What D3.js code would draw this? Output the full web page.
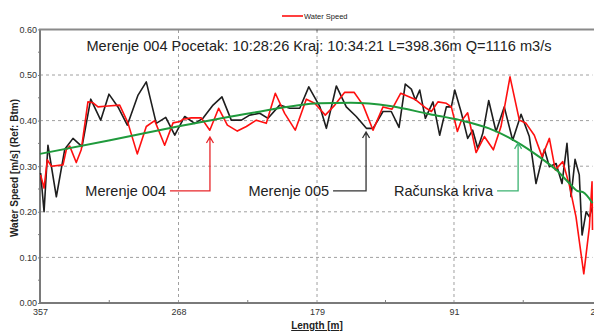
<!DOCTYPE html>
<html>
<head>
<meta charset="utf-8">
<script src="https://cdn.jsdelivr.net/npm/d3@7"></script>
<style>
  body { margin: 0; background: #fff; }
  svg { display: block; font-family: Arial, "Liberation Sans", sans-serif; }
</style>
</head>
<body>
<svg id="chart" width="594" height="333"></svg>
<script>
// --- data ---
const lengthTicks = [357, 268, 179, 91, 2];
const lengthMinorTicks = [312.5, 223.5, 135, 46.5];
const speedTicks = [0, 0.1, 0.2, 0.3, 0.4, 0.5, 0.6];

const m004Length = [356.6, 354.4, 352.3, 349.7, 342.2, 340.1, 337.9, 333.7, 330.5, 326.2, 322.9, 319.7, 313.3, 305.8, 300.5, 294.5, 288.7, 283.3, 276.9, 271.5, 267.0, 265.1, 259.8, 253.4, 247.9, 242.2, 236.6, 230.2, 224.4, 218.0, 211.6, 205.8, 199.8, 193.0, 185.9, 180.5, 173.7, 167.6, 161.2, 155.2, 149.4, 143.0, 136.6, 130.8, 125.2, 116.2, 108.8, 105.5, 101.3, 95.9, 92.7, 88.8, 86.5, 82.2, 76.8, 71.5, 65.7, 60.8, 55.0, 49.0, 44.7, 39.4, 34.4, 29.7, 25.9, 21.1, 16.9, 12.6, 7.6, 4.0, 2.3, 2.0];
const m004Speed = [0.281, 0.252, 0.314, 0.300, 0.303, 0.336, 0.344, 0.308, 0.336, 0.441, 0.439, 0.430, 0.432, 0.434, 0.395, 0.327, 0.387, 0.400, 0.346, 0.395, 0.398, 0.403, 0.406, 0.406, 0.379, 0.427, 0.390, 0.377, 0.387, 0.401, 0.394, 0.460, 0.416, 0.379, 0.447, 0.438, 0.412, 0.434, 0.462, 0.462, 0.434, 0.379, 0.430, 0.425, 0.460, 0.447, 0.427, 0.420, 0.441, 0.438, 0.430, 0.376, 0.398, 0.417, 0.330, 0.365, 0.336, 0.387, 0.496, 0.401, 0.394, 0.368, 0.321, 0.361, 0.292, 0.310, 0.259, 0.189, 0.064, 0.167, 0.266, 0.160];

const m005Length = [356.6, 354.4, 351.9, 346.5, 341.1, 335.8, 330.0, 324.4, 318.0, 312.7, 306.9, 300.9, 294.0, 288.7, 282.3, 276.2, 270.4, 264.0, 257.6, 252.3, 245.8, 240.1, 234.1, 227.6, 222.3, 215.8, 210.5, 203.0, 196.5, 190.1, 184.3, 177.1, 173.0, 166.6, 160.2, 153.8, 147.3, 143.0, 136.6, 131.3, 126.3, 122.3, 118.4, 115.8, 113.0, 109.4, 104.5, 100.2, 95.9, 92.7, 90.5, 86.5, 82.2, 79.0, 75.7, 72.5, 68.7, 64.0, 58.7, 53.3, 47.9, 42.6, 38.3, 32.9, 29.7, 25.4, 21.6, 18.4, 15.8, 13.2, 10.5, 8.7, 6.1, 4.0, 2.0];
const m005Speed = [0.285, 0.200, 0.346, 0.233, 0.337, 0.361, 0.343, 0.447, 0.401, 0.458, 0.430, 0.390, 0.456, 0.485, 0.394, 0.407, 0.368, 0.409, 0.394, 0.405, 0.434, 0.452, 0.401, 0.401, 0.412, 0.416, 0.405, 0.434, 0.427, 0.427, 0.474, 0.430, 0.383, 0.476, 0.430, 0.409, 0.383, 0.383, 0.420, 0.420, 0.385, 0.480, 0.469, 0.445, 0.467, 0.405, 0.441, 0.368, 0.430, 0.430, 0.467, 0.420, 0.361, 0.379, 0.339, 0.372, 0.444, 0.376, 0.430, 0.357, 0.414, 0.365, 0.262, 0.337, 0.299, 0.306, 0.262, 0.350, 0.233, 0.315, 0.281, 0.149, 0.200, 0.189, 0.211];

const krivaLength = [357, 312.0, 267.0, 222.1, 177.1, 157.2, 132.1, 106.4, 87.1, 68.5, 51.1, 36.4, 25.4, 15.8, 11.9, 8.1, 2.0];
const krivaSpeed = [0.327, 0.357, 0.388, 0.416, 0.438, 0.439, 0.432, 0.414, 0.401, 0.383, 0.354, 0.321, 0.292, 0.259, 0.246, 0.243, 0.219];

const titleText = "Merenje 004 Pocetak: 10:28:26 Kraj: 10:34:21 L=398.36m Q=1116 m3/s";
const legendLabel = "Water Speed";
const yLabel = "Water Speed [m/s]  (Ref: Btm)";
const xLabel = "Length [m]";

// callouts: label, where the arrow points, where the elbow sits (data units)
const callouts = [
  { label: "Merenje 004", tipLength: 247.8, tipSpeed: 0.364, elbowLength: 273.5, elbowSpeed: 0.246, color: "#e8262a" },
  { label: "Merenje 005", tipLength: 147.5, tipSpeed: 0.375, elbowLength: 168.7, elbowSpeed: 0.246, color: "#333333" },
  { label: "Računska kriva", tipLength: 49.8, tipSpeed: 0.351, elbowLength: 63.3, elbowSpeed: 0.246, color: "#3cb371" }
];

const svg = d3.select("#chart");
const W = 594, H = 333;
const margin = { top: 29.4, right: 1.5, bottom: 30, left: 40 };

const x = d3.scaleLinear().domain([357, 2]).range([margin.left, W - margin.right]);
const y = d3.scaleLinear().domain([0, 0.6]).range([H - margin.bottom, margin.top]);

// --- grid ---
const grid = svg.append("g").attr("stroke", "#a0a0a0").attr("stroke-dasharray", "3,3").attr("stroke-width", 1);
grid.selectAll("line.h").data(speedTicks.filter(d => d > 0 && d < 0.6)).enter().append("line")
  .attr("x1", x(357)).attr("x2", x(2)).attr("y1", d => y(d)).attr("y2", d => y(d));
grid.selectAll("line.v").data(lengthTicks.slice(1, -1)).enter().append("line")
  .attr("x1", d => x(d)).attr("x2", d => x(d)).attr("y1", y(0)).attr("y2", y(0.6));

// --- axes ---
const yAxis = svg.append("g").attr("transform", `translate(${margin.left},0)`)
  .call(d3.axisLeft(y).tickValues(speedTicks).tickFormat(d3.format(".2f")).tickSize(2).tickPadding(1));
yAxis.selectAll("text").style("font-size", "9px").style("fill", "#333");
yAxis.selectAll(".tick line").attr("stroke", "#808080");
yAxis.select(".domain").remove();

// minor y ticks at half steps
svg.append("g").selectAll("line").data(d3.range(0.05, 0.6, 0.1)).enter().append("line")
  .attr("x1", margin.left - 2).attr("x2", margin.left)
  .attr("y1", d => y(d)).attr("y2", d => y(d)).attr("stroke", "#808080");

const xAxis = svg.append("g").attr("transform", `translate(0,${y(0)})`)
  .call(d3.axisBottom(x).tickValues(lengthTicks).tickFormat(d3.format("d")).tickSize(0).tickPadding(6));
xAxis.selectAll("text").style("font-size", "9px").style("fill", "#333");
xAxis.select(".domain").remove();

svg.append("g").selectAll("line").data(lengthMinorTicks).enter().append("line")
  .attr("x1", d => x(d)).attr("x2", d => x(d))
  .attr("y1", y(0)).attr("y2", y(0) - 3).attr("stroke", "#808080");

// frame: left, bottom, top
svg.append("line").attr("x1", margin.left).attr("x2", margin.left).attr("y1", y(0.6)).attr("y2", y(0) + 1)
  .attr("stroke", "#7a7a7a").attr("stroke-width", 2);
svg.append("line").attr("x1", margin.left - 1).attr("x2", W).attr("y1", y(0)).attr("y2", y(0))
  .attr("stroke", "#7a7a7a").attr("stroke-width", 2);
svg.append("line").attr("x1", margin.left - 1).attr("x2", W).attr("y1", y(0.6)).attr("y2", y(0.6))
  .attr("stroke", "#8a8a8a").attr("stroke-width", 2);
svg.append("line").attr("x1", x(179)).attr("x2", x(179)).attr("y1", y(0.6)).attr("y2", y(0.6) + 2)
  .attr("stroke", "#666");

// --- series ---
const line = d3.line().x(d => x(d[0])).y(d => y(d[1]));
const smooth = d3.line().x(d => x(d[0])).y(d => y(d[1])).curve(d3.curveMonotoneX);

svg.append("path").datum(d3.zip(m005Length, m005Speed))
  .attr("fill", "none").attr("stroke", "#1e1e1e").attr("stroke-width", 1.6).attr("stroke-linejoin", "round")
  .attr("d", line);
svg.append("path").datum(d3.zip(m004Length, m004Speed))
  .attr("fill", "none").attr("stroke", "#ff1010").attr("stroke-width", 1.6).attr("stroke-linejoin", "round")
  .attr("d", line);
svg.append("path").datum(d3.zip(krivaLength, krivaSpeed))
  .attr("fill", "none").attr("stroke", "#1f9a3c").attr("stroke-width", 2).attr("d", smooth);

// --- callouts ---
callouts.forEach(c => {
  const g = svg.append("g");
  const tx = x(c.tipLength), ty = y(c.tipSpeed);
  const ex = x(c.elbowLength), ey = y(c.elbowSpeed);
  g.append("path")
    .attr("d", `M${ex},${ey}H${tx}V${ty}M${tx - 3.5},${ty + 6}L${tx},${ty}L${tx + 3.5},${ty + 6}`)
    .attr("fill", "none").attr("stroke", c.color).attr("stroke-width", 1.3);
  g.append("text").attr("x", ex - 4).attr("y", ey + 5)
    .attr("text-anchor", "end").style("font-size", "14.5px").style("fill", "#222")
    .text(c.label);
});

// --- title, legend, axis labels ---
svg.append("text").attr("x", 319).attr("y", 51).attr("text-anchor", "middle")
  .style("font-size", "14.6px").style("fill", "#222").text(titleText);

svg.append("line").attr("x1", 282).attr("x2", 303).attr("y1", 16).attr("y2", 16)
  .attr("stroke", "#ff1010").attr("stroke-width", 1.6);
svg.append("text").attr("x", 304).attr("y", 19).style("font-size", "7.5px").style("fill", "#222")
  .text(legendLabel);

svg.append("text").attr("transform", "translate(18,168) rotate(-90)")
  .attr("text-anchor", "middle").style("font-size", "10px").style("font-weight", "bold").style("fill", "#222")
  .text(yLabel);

svg.append("text").attr("x", 317).attr("y", 329).attr("text-anchor", "middle")
  .style("font-size", "10px").style("font-weight", "bold").style("fill", "#222")
  .style("text-decoration", "underline").text(xLabel);
</script>
</body>
</html>
